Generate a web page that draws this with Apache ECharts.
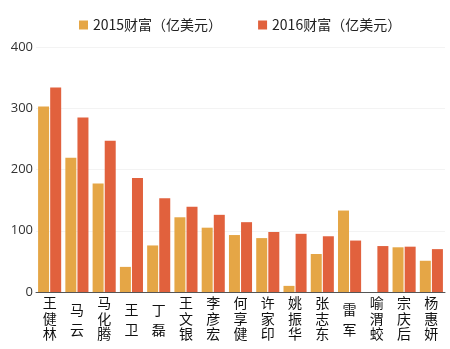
<!DOCTYPE html>
<html>
<head>
<meta charset="utf-8">
<script src="https://cdn.jsdelivr.net/npm/echarts@6/dist/echarts.min.js"></script>
<style>
  html, body { margin: 0; padding: 0; background: #fff; }
  #chart { width: 450px; height: 349px; }
</style>
</head>
<body>
<div id="chart"></div>
<script>
// 富豪财富对比：2015 与 2016（单位：亿美元）
const names = ['王健林', '马云', '马化腾', '王卫', '丁磊', '王文银', '李彦宏', '何享健',
               '许家印', '姚振华', '张志东', '雷军', '喻渭蛟', '宗庆后', '杨惠妍'];
const wealth2015 = [303, 219, 177, 41, 76, 122, 105, 93, 88, 10, 62, 133, null, 73, 51];
const wealth2016 = [334, 285, 247, 186, 153, 139, 126, 114, 98, 95, 91, 84, 75, 74, 70];
const seriesNames = ['2015财富（亿美元）', '2016财富（亿美元）'];
const yTicks = { min: 0, max: 400, interval: 100 };

const cjkFont = '"Noto Sans CJK SC", "Noto Sans", sans-serif';
const chart = echarts.init(document.getElementById('chart'), null, { renderer: 'canvas' });

chart.setOption({
  backgroundColor: '#ffffff',
  animation: false,
  legend: {
    left: 74,
    top: 13,
    itemWidth: 9,
    itemHeight: 9,
    itemGap: 36,
    icon: 'rect',
    textStyle: { fontFamily: cjkFont, fontSize: 14, color: '#222' },
    data: seriesNames
  },
  grid: { left: 36, right: 5, top: 47, bottom: 57, containLabel: false },
  xAxis: {
    type: 'category',
    data: names,
    axisLine: { lineStyle: { color: '#555', width: 1 } },
    axisTick: { show: false },
    axisLabel: {
      interval: 0,
      margin: 3,
      formatter: function (v) {
        // names stacked vertically; two-character names sit centred in the column
        if (v.length === 2) {
          return '{gap| }\n{two|' + v[0] + '}\n{two|' + v[1] + '}';
        }
        return v.split('').map(function (c) { return '{three|' + c + '}'; }).join('\n');
      },
      rich: {
        gap: { fontSize: 4, lineHeight: 5 },
        three: { fontFamily: cjkFont, fontSize: 14, lineHeight: 15.5, color: '#111' },
        two: { fontFamily: cjkFont, fontSize: 14, lineHeight: 20, color: '#111' }
      }
    }
  },
  yAxis: {
    type: 'value',
    min: yTicks.min,
    max: yTicks.max,
    interval: yTicks.interval,
    axisLine: { show: false },
    axisTick: { show: false },
    splitLine: { lineStyle: { color: '#f3f3f3', width: 1 } },
    axisLabel: { fontFamily: '"Open Sans", sans-serif', fontSize: 13, color: '#333', margin: 3 }
  },
  series: [
    {
      name: seriesNames[0],
      type: 'bar',
      data: wealth2015,
      barWidth: 11,
      barGap: '10%',
      itemStyle: { color: '#E5A646' }
    },
    {
      name: seriesNames[1],
      type: 'bar',
      data: wealth2016,
      barWidth: 11,
      barGap: '10%',
      itemStyle: { color: '#E1613D' }
    }
  ]
});
</script>
</body>
</html>
